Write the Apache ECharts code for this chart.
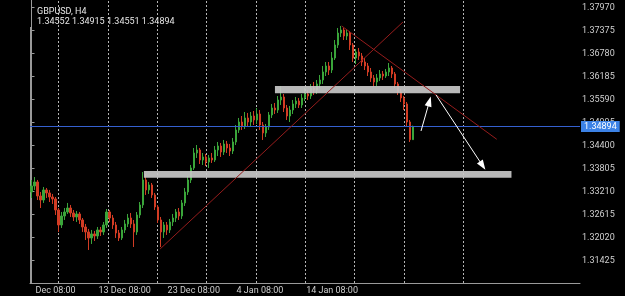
<!DOCTYPE html>
<html><head><meta charset="utf-8">
<script src="https://cdn.jsdelivr.net/npm/echarts@6/dist/echarts.min.js"></script>
<style>html,body{margin:0;padding:0;background:#000;}#c{width:625px;height:296px;}</style>
</head><body><div id="c"></div>
<script>
const symbolName = 'GBPUSD, H4';
const open = [1.33201,1.33356,1.33459,1.33098,1.32994,1.33253,1.33176,1.33072,1.33021,1.32736,
1.32349,1.32581,1.32684,1.32787,1.32659,1.32555,1.32633,1.32478,1.32297,1.32168,
1.32013,1.32117,1.32065,1.32220,1.32168,1.32349,1.32684,1.32529,1.32349,1.32142,
1.32013,1.32220,1.32375,1.32529,1.32375,1.32168,1.32607,1.32865,1.33511,1.33253,
1.33382,1.33124,1.32813,1.32478,1.32168,1.32349,1.32220,1.32426,1.32529,1.32684,
1.32581,1.32917,1.33201,1.33511,1.33821,1.34208,1.34285,1.34027,1.34105,1.33976,
1.34079,1.34027,1.34285,1.34389,1.34233,1.34440,1.34337,1.34259,1.34492,1.34802,
1.35008,1.34905,1.35112,1.35008,1.35163,1.35060,1.35215,1.34931,1.34725,1.34879,
1.35189,1.35370,1.35318,1.35577,1.35654,1.35370,1.35163,1.35318,1.35474,1.35551,
1.35448,1.35628,1.35732,1.35680,1.35887,1.35835,1.35990,1.36093,1.36300,1.36455,
1.36351,1.36661,1.36997,1.37307,1.37384,1.37229,1.37307,1.36997,1.36661,1.36816,
1.36713,1.36558,1.36455,1.36300,1.36145,1.36042,1.36145,1.36248,1.36196,1.36300,
1.36403,1.36248,1.35990,1.35783,1.35628,1.35474,1.35008,1.34552];
const close = [1.33356,1.33459,1.33098,1.32994,1.33253,1.33176,1.33072,1.33021,1.32736,1.32349,
1.32581,1.32684,1.32787,1.32659,1.32555,1.32633,1.32478,1.32297,1.32168,1.32013,
1.32117,1.32065,1.32220,1.32168,1.32349,1.32684,1.32529,1.32349,1.32142,1.32013,
1.32220,1.32375,1.32529,1.32375,1.32168,1.32607,1.32865,1.33511,1.33253,1.33382,
1.33124,1.32813,1.32478,1.32168,1.32349,1.32220,1.32426,1.32529,1.32684,1.32581,
1.32917,1.33201,1.33511,1.33821,1.34208,1.34285,1.34027,1.34105,1.33976,1.34079,
1.34027,1.34285,1.34389,1.34233,1.34440,1.34337,1.34259,1.34492,1.34802,1.35008,
1.34905,1.35112,1.35008,1.35163,1.35060,1.35215,1.34931,1.34725,1.34879,1.35189,
1.35370,1.35318,1.35577,1.35654,1.35370,1.35163,1.35318,1.35474,1.35551,1.35448,
1.35628,1.35732,1.35680,1.35887,1.35835,1.35990,1.36093,1.36300,1.36455,1.36351,
1.36661,1.36997,1.37307,1.37384,1.37229,1.37307,1.36997,1.36661,1.36816,1.36713,
1.36558,1.36455,1.36300,1.36145,1.36042,1.36145,1.36248,1.36196,1.36300,1.36403,
1.36248,1.35990,1.35783,1.35628,1.35474,1.35008,1.34552,1.34894];
const low = [1.33046,1.33253,1.32994,1.32787,1.32917,1.33046,1.32942,1.32891,1.32607,1.32168,
1.32271,1.32478,1.32633,1.32555,1.32452,1.32426,1.32375,1.32168,1.31961,1.31703,
1.31858,1.31935,1.31987,1.32065,1.32091,1.32271,1.32426,1.32246,1.32013,1.31935,
1.31961,1.32142,1.32297,1.32271,1.31780,1.32091,1.32529,1.32787,1.33124,1.33150,
1.33046,1.32736,1.32400,1.31780,1.32013,1.32091,1.32142,1.32323,1.32426,1.32478,
1.32504,1.32839,1.33124,1.33433,1.33769,1.34079,1.33924,1.33898,1.33872,1.33821,
1.33950,1.33976,1.34130,1.34105,1.34156,1.34208,1.34130,1.34182,1.34414,1.34725,
1.34802,1.34828,1.34879,1.34905,1.34931,1.34957,1.34802,1.34544,1.34621,1.34802,
1.35112,1.35215,1.35241,1.35448,1.35266,1.35060,1.35008,1.35215,1.35370,1.35370,
1.35370,1.35551,1.35577,1.35603,1.35706,1.35732,1.35887,1.35990,1.36196,1.36222,
1.36274,1.36610,1.36919,1.37204,1.37126,1.37126,1.36868,1.36558,1.36506,1.36610,
1.36455,1.36351,1.36196,1.36042,1.35912,1.35938,1.36067,1.36093,1.36145,1.36196,
1.36145,1.35887,1.35706,1.35525,1.35318,1.34905,1.34492,1.34551];
const high = [1.33511,1.33588,1.33511,1.33201,1.33330,1.33304,1.33253,1.33150,1.33072,1.32787,
1.32684,1.32787,1.32917,1.32865,1.32736,1.32710,1.32684,1.32529,1.32375,1.32246,
1.32220,1.32194,1.32297,1.32297,1.32426,1.32761,1.32736,1.32607,1.32426,1.32220,
1.32297,1.32478,1.32633,1.32659,1.32478,1.32684,1.32942,1.33717,1.33666,1.33459,
1.33433,1.33176,1.32865,1.32555,1.32426,1.32426,1.32504,1.32633,1.32761,1.32787,
1.32994,1.33304,1.33614,1.33898,1.34337,1.34414,1.34337,1.34208,1.34182,1.34156,
1.34208,1.34389,1.34492,1.34466,1.34544,1.34518,1.34440,1.34595,1.34931,1.35112,
1.35163,1.35266,1.35241,1.35266,1.35292,1.35370,1.35318,1.35008,1.34957,1.35266,
1.35474,1.35499,1.35680,1.35938,1.35732,1.35448,1.35422,1.35577,1.35654,1.35628,
1.35732,1.35887,1.35835,1.35990,1.36042,1.36093,1.36222,1.36455,1.36558,1.36558,
1.36816,1.37126,1.37436,1.37488,1.37436,1.37410,1.37359,1.37049,1.36894,1.36919,
1.36790,1.36661,1.36532,1.36403,1.36222,1.36248,1.36351,1.36326,1.36377,1.36532,
1.36455,1.36300,1.36042,1.35861,1.35680,1.35525,1.35060,1.34915];

const totalSlots = 183;               // bar slots on the time axis (incl. right shift)
const xTickIdx = [8, 31, 54, 76, 100];
const xTickText = ['Dec 08:00', '13 Dec 08:00', '23 Dec 08:00', '4 Jan 08:00', '14 Jan 08:00'];
const yTickLabels = ['1.31425','1.32020','1.32615','1.33210','1.33805','1.34400','1.34995','1.35590','1.36185','1.36780','1.37375','1.37970'];
const yMin = 1.30850, yMax = 1.38159;
const lastPrice = 1.34894;
const gridIdx = [9.05, 25.46, 41.86, 58.30, 74.71, 91.11, 107.55, 124.06, 143.69];
const trendLines = [[[42.8, 1.31729], [123.6, 1.37591]], [[103.2, 1.37488], [154.8, 1.34562]]];
const zones = [[[81.0, 1.35749], [142.6, 1.35938]], [[37.4, 1.33570], [159.7, 1.33743]]];
const arrows = [[[129.6, 1.34776], [132.4, 1.35540]], [[134.6, 1.35706], [150.1, 1.33880]]];

const n = open.length;
const candles = open.map((o, i) => [o, close[i], low[i], high[i]]);
const cats = Array.from({length: totalSlots}, (_, i) => String(i));
const yTicks = yTickLabels.map(Number);
const FONT = 'Roboto';

const chart = echarts.init(document.getElementById('c'), null, {renderer: 'canvas'});
chart.setOption({
  backgroundColor: '#000',
  animation: false,
  title: {
    text: symbolName,
    subtext: [open[n-1], high[n-1], low[n-1], close[n-1]].map(v => v.toFixed(5)).join(' '),
    left: 32, top: 2, itemGap: 1,
    textStyle: {color: '#e6e6e6', fontSize: 9, fontWeight: 'normal', fontFamily: FONT},
    subtextStyle: {color: '#e6e6e6', fontSize: 9, fontFamily: FONT}
  },
  grid: {left: 30, right: 45, top: 0, bottom: 13},
  xAxis: [{
    type: 'category', data: cats, boundaryGap: true,
    axisLine: {lineStyle: {color: '#9a9a9a'}},
    axisTick: {show: false}, splitLine: {show: false},
    axisLabel: {
      interval: (i) => xTickIdx.includes(i),
      formatter: (v, i) => { const k = xTickIdx.indexOf(i); return k >= 0 ? xTickText[k] : ''; },
      color: '#cfcfcf', fontSize: 9, margin: 3, fontFamily: FONT
    }
  }, {
    type: 'value', min: -0.5, max: totalSlots - 0.5, show: false
  }],
  yAxis: {
    type: 'value', position: 'right', min: yMin, max: yMax,
    splitLine: {show: false},
    axisLine: {show: true, lineStyle: {color: '#9a9a9a'}},
    axisTick: {show: true, length: 3, customValues: yTicks, lineStyle: {color: '#9a9a9a'}},
    axisLabel: {customValues: yTicks, formatter: v => v.toFixed(5), color: '#cfcfcf', fontSize: 9, margin: 2, fontFamily: FONT}
  },
  graphic: [{type: 'line', silent: true, shape: {x1: 30.5, y1: 27, x2: 30.5, y2: 283}, style: {stroke: '#9a9a9a', lineWidth: 1}}],
  series: [{
    type: 'candlestick', xAxisIndex: 0, yAxisIndex: 0, z: 2, silent: true,
    data: candles, barWidth: 1.8,
    itemStyle: {color: '#3aa53a', color0: '#d23c24', borderColor: '#3aa53a', borderColor0: '#d23c24', borderWidth: 1},
    markLine: {
      silent: true, symbol: 'none', z: 3, animation: false, precision: 5,
      lineStyle: {color: '#3560d0', width: 1, type: 'solid'},
      label: {position: 'end', formatter: lastPrice.toFixed(5), color: '#fff', backgroundColor: '#3c82e6', padding: [1, 3], fontSize: 9, distance: 1, fontFamily: FONT},
      data: [{yAxis: lastPrice}]
    }
  }, {
    type: 'line', xAxisIndex: 1, yAxisIndex: 0, z: 4, silent: true,
    data: trendLines[0], showSymbol: false, symbol: 'none',
    lineStyle: {color: '#961c1c', width: 1},
    markLine: {
      silent: true, symbol: 'none', z: 1, animation: false, precision: 5,
      lineStyle: {color: '#b5b5b5', width: 1, type: [2, 2]},
      label: {show: false},
      data: gridIdx.map(v => ({xAxis: v}))
    },
    markArea: {
      silent: true, z: 3,
      itemStyle: {color: '#c8c8c8', opacity: 0.92},
      data: zones.map(zz => [{coord: zz[0]}, {coord: zz[1]}])
    }
  }, {
    type: 'line', xAxisIndex: 1, yAxisIndex: 0, z: 4, silent: true,
    data: trendLines[1], showSymbol: false, symbol: 'none',
    lineStyle: {color: '#961c1c', width: 1},
    markLine: {
      silent: true, z: 5, animation: false, precision: 5,
      symbol: ['none', 'triangle'], symbolSize: [7, 10],
      lineStyle: {color: '#ffffff', width: 1, type: 'solid'},
      itemStyle: {color: '#ffffff'},
      label: {show: false},
      data: arrows.map(a => [{coord: a[0]}, {coord: a[1], symbol: 'triangle', symbolSize: [7, 10]}])
    }
  }]
});
</script></body></html>
